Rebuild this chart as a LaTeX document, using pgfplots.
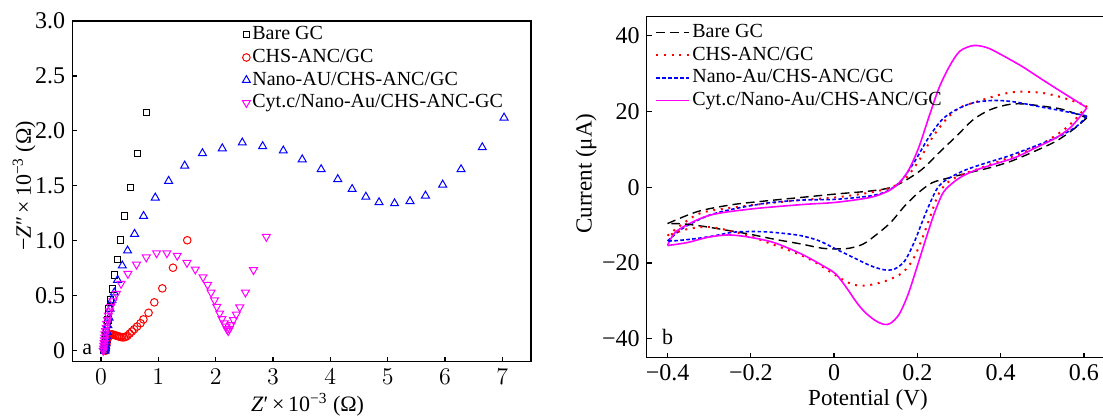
\documentclass[border=0pt]{standalone}
\usepackage{pgfplots}
\pgfplotsset{compat=1.18}
\usepackage{fontspec}
\setmainfont{Liberation Serif}
\definecolor{mag}{RGB}{255,0,255}
\definecolor{rd}{RGB}{255,0,0}
\definecolor{bl}{RGB}{0,0,255}
\pgfplotsset{
  common/.style={
    scale only axis,
    axis line style={line width=0.6pt},
    tick align=inside,
    xtick pos=bottom, ytick pos=left,
    major tick length=2.5pt,
    every tick/.style={line width=0.6pt,black},
    tick label style={font=\fontsize{12}{14}\selectfont},
    label style={font=\fontsize{11.5}{13}\selectfont},
    legend cell align=left,
  }
}
\begin{document}
\begin{tikzpicture}
\useasboundingbox (0,0) rectangle (551.5pt,208pt);
% ---------------- left panel ----------------
\begin{axis}[common,
  at={(36.15pt,27.15pt)}, anchor=south west,
  width=229.35pt, height=170.35pt,
  xmin=-0.5, xmax=7.5, ymin=-0.1, ymax=3.0,
  xtick={0,1,2,3,4,5,6,7},
  ytick={0,0.5,1,1.5,2,2.5,3},
  yticklabels={0,0.5,1.0,1.5,2.0,2.5,3.0},
  xlabel={\textit{Z}′\,×\,10\textsuperscript{−3} (Ω)},
  ylabel={−\textit{Z}″\,×\,10\textsuperscript{−3} (Ω)},
  xlabel style={at={(axis description cs:0.513,-0.127)},anchor=center,font=\fontsize{11}{13}\selectfont},
  ylabel style={at={(axis description cs:-0.105,0.516)},anchor=center,rotate=0,font=\fontsize{11}{13}\selectfont},
  legend style={at={(axis description cs:0.37,0.993)},anchor=north west,
    draw=none,fill=none,inner sep=0pt,row sep=0.35pt,
    font=\fontsize{10}{12}\selectfont,
    nodes={inner sep=1pt,text height=7pt,text depth=2pt}},
  legend image code/.code={\draw[mark repeat=2,mark phase=2,#1] plot coordinates {(0pt,0pt)(5pt,0pt)(10pt,0pt)};},
]
\addplot[only marks,mark=square,mark size=1.6pt,black,mark options={line width=0.5pt}] coordinates {
(0.055,0.005)(0.06,0.02)(0.065,0.04)(0.07,0.06)(0.075,0.085)(0.08,0.11)(0.09,0.14)(0.095,0.17)(0.10,0.2)(0.11,0.24)(0.12,0.28)(0.13,0.33)(0.14,0.386)(0.168,0.461)(0.203,0.561)(0.238,0.689)(0.284,0.83)(0.342,1.007)(0.41,1.225)(0.51,1.483)(0.633,1.796)(0.795,2.166)};
\addlegendentry{Bare GC}
\addplot[only marks,mark=o,mark size=1.9pt,rd,mark options={line width=0.5pt}] coordinates {
(0.08,0.0)(0.085,0.02)(0.09,0.04)(0.095,0.06)(0.10,0.08)(0.11,0.10)(0.12,0.12)(0.14,0.135)(0.16,0.145)(0.18,0.148)(0.20,0.147)(0.22,0.145)(0.25,0.14)(0.28,0.135)(0.31,0.13)(0.34,0.125)(0.37,0.122)(0.40,0.122)(0.43,0.126)(0.46,0.135)(0.50,0.155)(0.54,0.175)(0.58,0.195)(0.63,0.22)(0.69,0.25)(0.74,0.285)(0.83,0.345)(0.93,0.44)(1.07,0.567)(1.256,0.755)(1.505,1.005)};
\addlegendentry{CHS-ANC/GC}
\addplot[only marks,mark=triangle,mark size=2.3pt,bl,mark options={line width=0.5pt}] coordinates {
(0.07,0.0)(0.075,0.02)(0.08,0.04)(0.085,0.07)(0.09,0.10)(0.10,0.13)(0.11,0.17)(0.12,0.23)(0.14,0.30)(0.16,0.38)(0.19,0.46)(0.232,0.528)(0.29,0.643)(0.372,0.774)(0.464,0.91)(0.586,1.062)(0.743,1.225)(0.947,1.392)(1.18,1.544)(1.46,1.683)(1.77,1.796)(2.116,1.84)(2.465,1.893)(2.82,1.86)(3.18,1.82)(3.51,1.74)(3.84,1.65)(4.13,1.56)(4.38,1.47)(4.62,1.40)(4.85,1.35)(5.12,1.34)(5.39,1.36)(5.66,1.41)(5.96,1.51)(6.28,1.65)(6.65,1.85)(7.03,2.12)};
\addlegendentry{Nano-AU/CHS-ANC/GC}
\addplot[only marks,mark=triangle,mark size=2.3pt,mag,mark options={line width=0.5pt,rotate=180}] coordinates {
(0.04,0.0)(0.045,0.02)(0.05,0.045)(0.055,0.07)(0.06,0.095)(0.065,0.12)(0.07,0.15)(0.08,0.18)(0.09,0.21)(0.10,0.245)(0.115,0.28)(0.13,0.32)(0.15,0.36)(0.17,0.40)(0.21,0.45)(0.27,0.52)(0.35,0.61)(0.47,0.70)(0.62,0.785)(0.79,0.85)(0.97,0.888)(1.15,0.888)(1.33,0.865)(1.50,0.80)(1.645,0.74)(1.78,0.67)(1.86,0.6)(1.92,0.53)(1.98,0.46)(2.02,0.40)(2.07,0.34)(2.11,0.29)(2.15,0.25)(2.18,0.22)(2.20,0.195)(2.22,0.18)(2.24,0.2)(2.27,0.235)(2.31,0.28)(2.36,0.33)(2.42,0.395)(2.52,0.53)(2.66,0.734)(2.884,1.037)};
\addlegendentry{Cyt.c/Nano-Au/CHS-ANC-GC}
\node[font=\fontsize{11}{13}\selectfont] at (axis cs:-0.24,0.01) {a};
\end{axis}
% ---------------- right panel ----------------
\begin{axis}[common,
  at={(323.35pt,29.15pt)}, anchor=south west,
  width=229.02pt, height=170.5pt,
  xmin=-0.45, xmax=0.65, ymin=-45, ymax=45,
  xtick={-0.4,-0.2,0,0.2,0.4,0.6},
  xticklabels={−0.4,−0.2,0,0.2,0.4,0.6},
  ytick={-40,-20,0,20,40},
  yticklabels={−40,−20,0,20,40},
  xlabel={Potential (V)},
  ylabel={Current (μA)},
  xlabel style={at={(axis description cs:0.483,-0.124)},anchor=center},
  ylabel style={at={(axis description cs:-0.1325,0.54)},anchor=center,rotate=0},
  legend style={at={(axis description cs:0.018,0.9865)},anchor=north west,
    draw=none,fill=none,inner sep=0pt,row sep=0.3pt,
    font=\fontsize{10}{12}\selectfont,
    nodes={inner sep=1pt,text height=7pt,text depth=2pt}},
  legend image code/.code={\draw[#1] (0pt,0pt) -- (16.5pt,0pt);},
]
\addplot[black,line width=0.7pt,dash pattern=on 4.3pt off 2.5pt,smooth,tension=0.5] coordinates {
(-0.4,-9.6)(-0.327,-6.4)(-0.244,-4.6)(-0.162,-3.6)(-0.079,-2.7)(0.004,-1.8)(0.087,-1.0)(0.136,-0.1)(0.17,1.7)(0.211,4.7)(0.252,9.1)(0.294,13.5)(0.335,17.9)(0.376,20.5)(0.418,21.8)(0.451,22.0)(0.5,21.4)(0.55,20.5)(0.607,18.3)};
\addlegendentry{Bare GC}
\addplot[rd,line width=1pt,dash pattern=on 1pt off 2.8pt,smooth,tension=0.5] coordinates {
(-0.4,-12.8)(-0.327,-7.1)(-0.244,-5.4)(-0.162,-4.3)(-0.079,-3.4)(0.004,-2.7)(0.087,-1.4)(0.136,-0.1)(0.17,2.1)(0.203,6.9)(0.236,13.1)(0.269,17.9)(0.302,21.0)(0.352,22.9)(0.401,24.5)(0.443,25.2)(0.5,24.9)(0.55,23.6)(0.607,21.5)};
\addlegendentry{CHS-ANC/GC}
\addplot[bl,line width=0.8pt,dash pattern=on 1.8pt off 1.2pt,smooth,tension=0.5] coordinates {
(-0.4,-14.2)(-0.36,-10.6)(-0.302,-7.5)(-0.244,-5.8)(-0.162,-4.2)(-0.079,-3.4)(0.004,-3.2)(0.087,-2.3)(0.128,-1.0)(0.161,1.7)(0.194,6.9)(0.227,13.1)(0.26,17.9)(0.294,20.5)(0.335,22.3)(0.385,22.9)(0.434,22.5)(0.5,21.1)(0.55,20.1)(0.607,18.8)};
\addlegendentry{Nano-Au/CHS-ANC/GC}
\addplot[mag,line width=0.8pt,smooth,tension=0.5] coordinates {
(-0.4,-15.4)(-0.377,-11.5)(-0.302,-7.5)(-0.203,-5.8)(-0.079,-4.6)(0.004,-4.0)(0.087,-2.7)(0.128,-1.1)(0.153,0.8)(0.178,4.3)(0.203,10.4)(0.227,18.3)(0.252,26.2)(0.277,31.9)(0.302,35.9)(0.335,37.4)(0.368,36.8)(0.401,35.0)(0.451,31.9)(0.5,28.4)(0.55,24.9)(0.607,21.0)};
\addlegendentry{Cyt.c/Nano-Au/CHS-ANC/GC}
% return branches
\addplot[black,line width=0.7pt,dash pattern=on 4.3pt off 2.5pt,smooth,tension=0.5,forget plot] coordinates {
(0.607,18.3)(0.575,15.3)(0.534,12.2)(0.484,9.6)(0.426,6.9)(0.376,5.2)(0.327,3.9)(0.277,2.5)(0.236,1.2)(0.203,-1.4)(0.17,-4.9)(0.136,-9.3)(0.103,-12.4)(0.07,-15.0)(0.037,-16.1)(0.004,-16.3)(-0.029,-16.1)(-0.079,-15.0)(-0.145,-13.7)(-0.203,-12.4)(-0.261,-11.3)(-0.31,-10.4)(-0.36,-9.7)(-0.4,-9.6)};
\addplot[rd,line width=1pt,dash pattern=on 1pt off 2.8pt,smooth,tension=0.5,forget plot] coordinates {
(0.607,21.5)(0.58,18)(0.55,15)(0.5,11.5)(0.45,9)(0.4,7)(0.35,5)(0.3,3)(0.27,1)(0.25,-2)(0.23,-8)(0.21,-14)(0.19,-19)(0.165,-22.5)(0.13,-24.5)(0.1,-25.5)(0.07,-26)(0.04,-25.5)(0.0,-23)(-0.05,-19.5)(-0.1,-17)(-0.15,-15)(-0.2,-13)(-0.25,-11.5)(-0.3,-10.5)(-0.35,-11)(-0.4,-12.8)};
\addplot[bl,line width=0.8pt,dash pattern=on 1.8pt off 1.2pt,smooth,tension=0.5,forget plot] coordinates {
(0.607,18.8)(0.583,16.1)(0.542,13.5)(0.484,10.9)(0.418,8.2)(0.368,6.5)(0.319,4.7)(0.286,3.0)(0.26,1.2)(0.244,-1.0)(0.219,-7.1)(0.194,-14.1)(0.17,-19.4)(0.145,-21.6)(0.12,-21.8)(0.087,-20.7)(0.045,-18.5)(0.004,-16.3)(-0.037,-14.1)(-0.079,-12.8)(-0.12,-12.2)(-0.162,-11.8)(-0.203,-11.7)(-0.244,-11.9)(-0.286,-12.8)(-0.327,-13.5)(-0.377,-14.1)(-0.4,-14.2)};
\addplot[mag,line width=0.8pt,smooth,tension=0.5,forget plot] coordinates {
(0.607,21.0)(0.592,18.8)(0.567,15.7)(0.534,13.1)(0.484,10.4)(0.434,7.8)(0.385,6.1)(0.335,4.3)(0.302,2.5)(0.277,0.4)(0.26,-1.8)(0.24,-7.1)(0.219,-14.1)(0.199,-21.1)(0.178,-28.2)(0.157,-33.4)(0.136,-35.9)(0.12,-36.2)(0.099,-35.2)(0.074,-33.0)(0.054,-30.4)(0.029,-26.4)(0.004,-22.9)(-0.021,-21.1)(-0.079,-17.6)(-0.145,-14.6)(-0.203,-13.2)(-0.253,-12.6)(-0.302,-13.2)(-0.352,-14.6)(-0.4,-15.4)};
\node[font=\fontsize{11}{13}\selectfont] at (axis cs:-0.4,-39.5) {b};
\end{axis}
\end{tikzpicture}
\end{document}
